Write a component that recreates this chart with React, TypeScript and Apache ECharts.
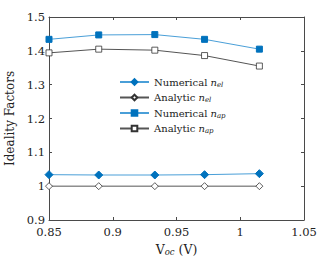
import React, { useEffect, useRef } from "react";
import * as echarts from "echarts";

const voc = [0.85, 0.889, 0.933, 0.972, 1.015];
const numEl = [1.034, 1.033, 1.033, 1.034, 1.037];
const anaEl = [1.0, 1.0, 1.0, 1.0, 1.0];
const numAp = [1.434, 1.447, 1.448, 1.434, 1.405];
const anaAp = [1.394, 1.405, 1.402, 1.386, 1.355];
const xTicks = [0.85, 0.9, 0.95, 1, 1.05];
const yTicks = [0.9, 1, 1.1, 1.2, 1.3, 1.4, 1.5];

const FONT = "DejaVu Serif";
const AX = "#4a4a4a";
const BLUE = "#0072BD";
const BLUE_LINE = "#4a9fd8";
const GRAY_LINE = "#555555";
const TXT = "#222";

const pairs = (ys: number[]) => voc.map((x, i) => [x, ys[i]]);

export default function App() {
  const ref = useRef<HTMLDivElement>(null);
  useEffect(() => {
    if (!ref.current) return;
    const chart = echarts.init(ref.current, undefined, { renderer: "svg" });
    const axisCommon = {
      axisLine: { show: true, onZero: false, lineStyle: { color: AX, width: 1 } },
      axisTick: { show: true, inside: true, length: 3, lineStyle: { color: AX, width: 1 } },
      splitLine: { show: false },
    };
    const fmt = (v: number) => String(Math.round(v * 100) / 100);
    chart.setOption({
      animation: false,
      textStyle: { fontFamily: FONT },
      grid: { left: 49, right: 25, top: 17, bottom: 37, containLabel: false, outerBoundsMode: "none" },
      xAxis: [
        {
          type: "value",
          min: xTicks[0],
          max: xTicks[xTicks.length - 1],
          interval: 0.05,
          position: "bottom",
          ...axisCommon,
          axisLabel: { color: TXT, fontFamily: FONT, fontSize: 11.5, margin: 6, formatter: fmt },
          name: "{v|V}{s|oc}{n| (V)}",
          nameLocation: "middle",
          nameGap: 21,
          nameTextStyle: {
            rich: {
              v: { fontFamily: FONT, fontSize: 12.5, color: TXT },
              s: { fontFamily: FONT, fontSize: 8.5, fontStyle: "italic", color: TXT, verticalAlign: "bottom", padding: [6, 0, 0, 0] },
              n: { fontFamily: FONT, fontSize: 12.5, color: TXT },
            },
          },
        },
        {
          type: "value",
          min: xTicks[0],
          max: xTicks[xTicks.length - 1],
          interval: 0.05,
          position: "top",
          ...axisCommon,
          axisLabel: { show: false },
        },
      ],
      yAxis: [
        {
          type: "value",
          min: yTicks[0],
          max: yTicks[yTicks.length - 1],
          interval: 0.1,
          position: "left",
          ...axisCommon,
          axisLabel: { color: TXT, fontFamily: FONT, fontSize: 11.5, margin: 4, formatter: fmt },
          name: "Ideality Factors",
          nameLocation: "middle",
          nameRotate: 90,
          nameGap: 25,
          nameTextStyle: { fontFamily: FONT, fontSize: 12, color: TXT },
        },
        {
          type: "value",
          min: yTicks[0],
          max: yTicks[yTicks.length - 1],
          interval: 0.1,
          position: "right",
          ...axisCommon,
          axisLabel: { show: false },
        },
      ],
      legend: {
        orient: "vertical",
        left: 119,
        top: 77,
        itemWidth: 29,
        itemHeight: 7,
        itemGap: 4.5,
        padding: 0,
        textStyle: {
          fontFamily: FONT,
          fontSize: 10,
          color: TXT,
          rich: {
            t: { fontFamily: FONT, fontSize: 10, color: TXT, height: 14 },
            i: { fontFamily: FONT, fontSize: 10, fontStyle: "italic", color: TXT, height: 14 },
            s: { fontFamily: FONT, fontSize: 7, fontStyle: "italic", color: TXT, verticalAlign: "bottom", padding: [5, 0, 0, 0], height: 14 },
          },
        },
        formatter: (name: string) => {
          const parts = name.split(" ");
          return `{t|${parts[0]} }{i|n}{s|${parts[1]}}`;
        },
        data: ["Numerical el", "Analytic el", "Numerical ap", "Analytic ap"],
      },
      series: [
        { name: "Numerical el", type: "line", data: pairs(numEl), symbol: "diamond", symbolSize: 8, lineStyle: { color: BLUE_LINE, width: 1 }, itemStyle: { color: BLUE, borderColor: BLUE, borderWidth: 1 } },
        { name: "Analytic el", type: "line", data: pairs(anaEl), symbol: "diamond", symbolSize: 7, lineStyle: { color: GRAY_LINE, width: 1 }, itemStyle: { color: "#fff", borderColor: "#333", borderWidth: 0.8 } },
        { name: "Numerical ap", type: "line", data: pairs(numAp), symbol: "rect", symbolSize: 6, lineStyle: { color: BLUE_LINE, width: 1 }, itemStyle: { color: BLUE, borderColor: BLUE, borderWidth: 1 } },
        { name: "Analytic ap", type: "line", data: pairs(anaAp), symbol: "rect", symbolSize: 6, lineStyle: { color: GRAY_LINE, width: 1 }, itemStyle: { color: "#fff", borderColor: "#333", borderWidth: 0.8 } },
      ],
    });
    return () => chart.dispose();
  }, []);
  return <div ref={ref} style={{ width: 329, height: 257, position: "absolute", left: 0, top: 0, background: "#fff" }} />;
}
